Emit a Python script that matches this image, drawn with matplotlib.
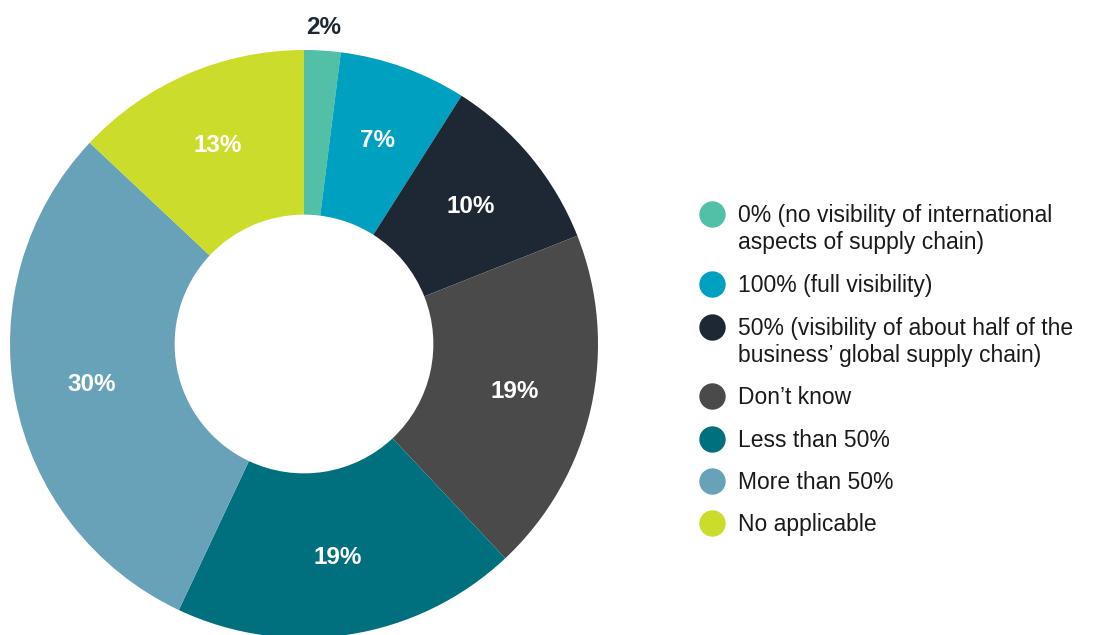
import matplotlib.pyplot as plt
import numpy as np
from matplotlib.lines import Line2D

plt.rcParams['font.family'] = ['Liberation Sans', 'DejaVu Sans']

# Supply chain visibility responses
categories = [
    '0% (no visibility of international\naspects of supply chain)',
    '100% (full visibility)',
    '50% (visibility of about half of the\nbusiness\u2019 global supply chain)',
    'Don\u2019t know',
    'Less than 50%',
    'More than 50%',
    'No applicable',
]
shares = [2, 7, 10, 19, 19, 30, 13]
colors = ['#52C0A6', '#00A0C0', '#1E2835', '#4A4A4A', '#00707E', '#68A2B9', '#CCDC2A']

W, H = 1093, 635
fig = plt.figure(figsize=(W / 100, H / 100), dpi=100)
fig.patch.set_facecolor('white')

cx, cy, r = 304, 344, 294
ax = fig.add_axes([(cx - r) / W, (H - cy - r) / H, 2 * r / W, 2 * r / H])

wedges, _ = ax.pie(
    shares,
    colors=colors,
    startangle=90,
    counterclock=False,
    radius=1,
    wedgeprops=dict(width=0.56, linewidth=0),
)
ax.set_xlim(-1, 1)
ax.set_ylim(-1, 1)
ax.set_aspect('equal')
ax.axis('off')

# Percent labels on the ring, small slice gets its label outside
for w, val in zip(wedges, shares):
    ang = np.deg2rad((w.theta1 + w.theta2) / 2)
    if val < 5:
        rr, col = 1.08, '#1E2835'
    else:
        rr, col = 0.735, 'white'
    ax.text(rr * np.cos(ang), rr * np.sin(ang), f'{val}%',
            ha='center', va='center', fontsize=17.5, fontweight='bold',
            color=col, clip_on=False)

# Legend: marker sits beside the first line of each label
legend_y = [214, 284, 327, 396, 439, 481, 523]
for label, col, y in zip(categories, colors, legend_y):
    fig.add_artist(Line2D([712 / W], [1 - y / H], marker='o', markersize=18,
                          color=col, linestyle='none',
                          transform=fig.transFigure))
    fig.text(738 / W, 1 - (y - 10) / H, label, ha='left', va='top',
             fontsize=16.5, color='#1A1A1A', linespacing=1.2)

fig.savefig('out.png', dpi=100)
